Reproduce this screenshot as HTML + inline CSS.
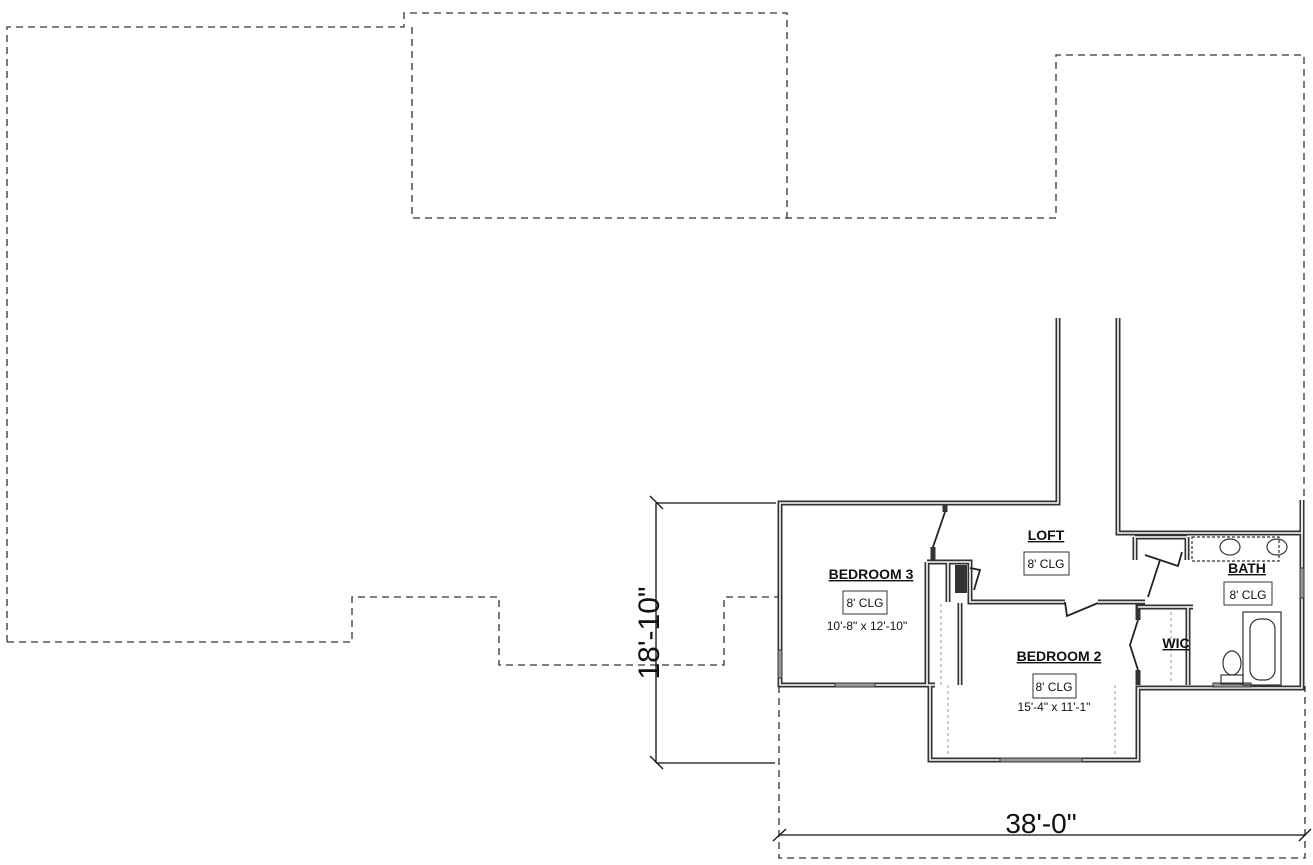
<!DOCTYPE html>
<html><head><meta charset="utf-8"><style>
html,body{margin:0;padding:0;background:#fff;}
svg{display:block;}
text{font-family:"Liberation Sans",sans-serif;fill:#111;}
.lbl{font-weight:bold;font-size:14px;text-anchor:middle;text-decoration:underline;}
.s{font-size:12px;text-anchor:middle;}
</style></head><body>
<svg width="1313" height="865" viewBox="0 0 1313 865" xmlns="http://www.w3.org/2000/svg">
<g fill="none" stroke="#333" stroke-width="1.3" stroke-dasharray="7,5">
<path d="M7,642 V27 H404 V13 H787 V218"/>
<path d="M412,27 V218 H1056 V55 H1304 V500"/>
<path d="M7,642 H352 V597 H499 V665 H724 V597 H779"/>
<path d="M779,686 V858 H1305 V686"/>
</g>
<g stroke="#111" stroke-width="1.3" fill="none">
<path d="M656,503 V763 M656,503 H776 M656,763 H775 M650,496 L663,509 M650,756 L663,769"/>
<path d="M779,835 H1305 M773,841 L786,829 M1299,841 L1311,829"/>
</g>
<text x="1041" y="833" font-size="28" text-anchor="middle">38'-0"</text>
<text transform="translate(659,633) rotate(-90)" font-size="30" text-anchor="middle">18'-10"</text>
<g fill="none" stroke-linejoin="miter">
<g stroke="#333" stroke-width="5">
<path d="M1058,318 V503 H780 V685 H935"/>
<path d="M1118,318 V533 H1302 V500"/>
<path d="M1302,500 V688 H1138 V760 H930 V685"/>
<path d="M945,503 V512 M933,547 V560"/>
<path d="M927,562 H970 V602 H1065 M1098,602 H1145"/>
<path d="M927,562 V685 M960,603 V685 M948,562 V602"/>
<path d="M1138,602 V620 M1138,670 V685"/>
<path d="M1138,607 H1193 M1188,607 V685"/>
<path d="M1135,537 V560 M1187,537 V560 M1135,537 H1187"/>
</g>
<g stroke="#fff" stroke-width="1.6">
<path d="M1058,318 V503 H780 V685 H935"/>
<path d="M1118,318 V533 H1302 V500"/>
<path d="M1302,500 V688 H1138 V760 H930 V685"/>
<path d="M927,562 H970 V602 H1065 M1098,602 H1145"/>
<path d="M927,562 V685 M960,603 V685 M948,562 V602"/>
<path d="M1138,607 H1193 M1188,607 V685"/>
<path d="M1135,560 V537 H1187 V560"/>
</g>
<g stroke="#222" stroke-width="1.8">
<path d="M945,512 L933,547"/>
<path d="M1065,602 L1067,616 L1098,603"/>
<path d="M1138,620 L1130,645 L1138,670"/>
<path d="M1160,560 L1148,597"/>
<path d="M1145,555 L1178,566 L1182,552"/>
<path d="M970,568 L980,570 L974,590"/>
</g>
</g>
<rect x="955" y="565" width="12" height="28" fill="#333"/>
<g fill="#999" stroke="#333" stroke-width="1">
<rect x="835" y="683" width="40" height="4"/>
<rect x="1000" y="758" width="82" height="4"/>
<rect x="1213" y="683" width="38" height="4"/>
<rect x="778" y="650" width="4" height="28"/>
<rect x="1300" y="568" width="4" height="30"/>
</g>
<g stroke="#999" stroke-width="1" stroke-dasharray="3,3" fill="none">
<path d="M941,604 V685 M1171,612 V684 M948,685 V757 M1115,685 V757"/>
</g>
<g fill="none" stroke="#333" stroke-width="1.2">
<rect x="1192" y="537" width="87" height="24" stroke-dasharray="3,2"/>
<ellipse cx="1230" cy="547" rx="10" ry="8"/>
<ellipse cx="1277" cy="547" rx="10" ry="8"/>
<rect x="1243" y="612" width="38" height="73"/>
<rect x="1250" y="619" width="25" height="61" rx="10"/>
<ellipse cx="1232" cy="663" rx="9" ry="12"/>
<rect x="1221" y="675" width="22" height="9"/>
</g>
<text class="lbl" x="1046" y="540">LOFT</text>
<rect x="1024" y="552" width="45" height="23" fill="#fff" stroke="#333"/>
<text class="s" x="1046" y="568">8' CLG</text>
<text class="lbl" x="871" y="579">BEDROOM 3</text>
<rect x="843" y="591" width="44" height="23" fill="#fff" stroke="#333"/>
<text class="s" x="865" y="607">8' CLG</text>
<text class="s" x="867" y="630">10'-8" x 12'-10"</text>
<text class="lbl" x="1059" y="661">BEDROOM 2</text>
<rect x="1033" y="674" width="43" height="24" fill="#fff" stroke="#333"/>
<text class="s" x="1054" y="691">8' CLG</text>
<text class="s" x="1054" y="711">15'-4" x 11'-1"</text>
<text class="lbl" x="1176" y="648">WIC</text>
<text class="lbl" x="1247" y="573">BATH</text>
<rect x="1224" y="582" width="48" height="23" fill="#fff" stroke="#333"/>
<text class="s" x="1248" y="599">8' CLG</text>
</svg>
</body></html>
